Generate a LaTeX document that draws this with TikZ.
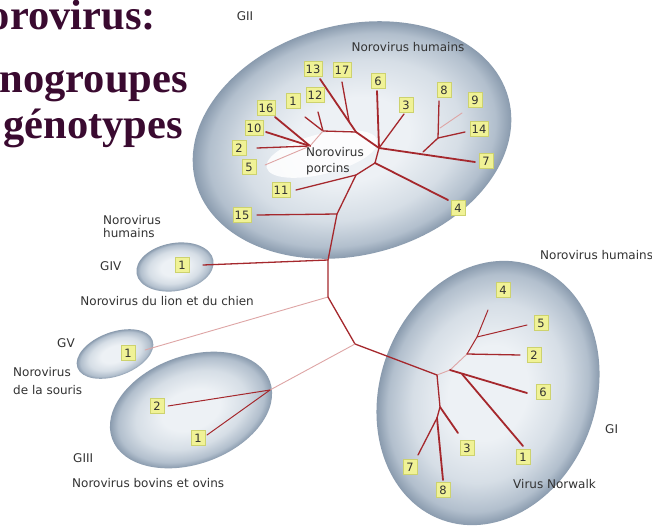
\documentclass[tikz,border=0pt]{standalone}
\usepackage{fontspec}
\setmainfont{Liberation Serif}
\newfontfamily\labfont{DejaVu Sans}
\definecolor{treered}{RGB}{165,40,45}
\definecolor{treepale}{RGB}{222,165,165}
\definecolor{boxfill}{RGB}{240,242,150}
\definecolor{boxedge}{RGB}{205,210,110}
\definecolor{labgray}{RGB}{50,50,50}
\definecolor{titlecol}{RGB}{58,10,48}
\definecolor{domeC}{RGB}{237,241,245}
\definecolor{domeM}{RGB}{214,222,230}
\definecolor{domeD}{RGB}{178,191,205}
\definecolor{domeE}{RGB}{138,155,174}
\pgfdeclareradialshading{dome}{\pgfpoint{0bp}{0bp}}{color(0bp)=(domeC); color(9bp)=(domeC); color(17bp)=(domeM); color(22.5bp)=(domeD); color(25bp)=(domeE); color(50bp)=(domeE)}
\newcommand\domeell[5]{\begin{scope}[transform canvas={shift={(#1,#2)},rotate=#3}]\shade[shading=dome] (0,0) ellipse [x radius=#4, y radius=#5];\end{scope}}
\tikzset{
 gbox/.style={draw=boxedge, line width=0.4pt, fill=boxfill, inner xsep=1.5pt, inner ysep=0pt, minimum height=15pt, minimum width=13.5pt, font=\labfont\fontsize{11.5}{12}\selectfont, text=labgray},
 lbl/.style={font=\labfont\fontsize{12}{14}\selectfont, text=labgray, inner sep=0pt},
 br/.style={draw=treered, line width=1.3pt, line cap=round},
 brthick/.style={draw=treered, line width=1.8pt, line cap=round},
 brpale/.style={draw=treepale, line width=0.9pt, line cap=round},
 ttl/.style={font=\fontsize{42.5}{42}\selectfont\bfseries, text=titlecol, inner sep=0pt},
}
\begin{document}
\begin{tikzpicture}[x=1pt,y=-1pt]
\useasboundingbox (0,0) rectangle (652,525);
\fill[white] (0,0) rectangle (652,525);
% ellipses
\domeell{352}{140}{15}{162}{115}
\domeell{175}{267}{10}{39}{24}
\domeell{115}{354}{20}{40}{22}
\domeell{191}{410}{20}{84}{54}
\domeell{488}{393}{-20}{108}{135}
\fill[white, opacity=.85, rotate around={14:(322,154)}] (322,154) ellipse [x radius=57, y radius=20];
% title
\node[ttl, anchor=base east] (t1) at (156,29) {orovirus:};
\node[ttl, anchor=base east] (t2) at (188,92) {nogroupes};
\node[ttl, anchor=base east] (t3) at (183,138) {génotypes};
% coordinates GII
\coordinate (T0) at (328,260);
\coordinate (T1) at (328,297);
\coordinate (T15) at (337,214);
\coordinate (T11) at (356,175);
\coordinate (H) at (375,163);
\coordinate (H2) at (379,148);
\coordinate (J1) at (356,132);
\coordinate (J2) at (323,131);
\coordinate (J17) at (349,121);
\coordinate (J3) at (310,146);
\coordinate (K) at (438,138);
\coordinate (K7) at (423,152);
\coordinate (K9) at (440,128);
\coordinate (e13) at (320,79);
\coordinate (e17) at (342,82);
\coordinate (e6) at (377,91);
\coordinate (e12) at (318,112);
\coordinate (e1) at (305,117);
\coordinate (e16) at (275,117);
\coordinate (e10) at (266,132);
\coordinate (e2) at (257,148);
\coordinate (e5) at (265,165);
\coordinate (e3) at (404,114);
\coordinate (e8) at (439,101);
\coordinate (e9) at (462,113);
\coordinate (e14) at (465,132);
\coordinate (e7) at (475,162);
\coordinate (e4) at (448,200);
\coordinate (e11) at (296,190);
\coordinate (e15) at (257,215);
\coordinate (eIV) at (203,265);
\coordinate (eV) at (145,350);
% lower
\coordinate (T2) at (355,344);
\coordinate (G3) at (270,390);
\coordinate (f2) at (168,406);
\coordinate (f1) at (207,435);
% GI
\coordinate (R) at (437,375);
\coordinate (P1) at (450,370);
\coordinate (P2) at (467,354);
\coordinate (P3) at (477,337);
\coordinate (P1b) at (462,374);
\coordinate (A) at (440,407);
\coordinate (B) at (437,418);
\coordinate (g4) at (488,310);
\coordinate (g5) at (527,325);
\coordinate (g2) at (520,355);
\coordinate (g6) at (527,393);
\coordinate (g1) at (523,446);
\coordinate (g3) at (458,433);
\coordinate (g7) at (418,455);
\coordinate (g8) at (443,480);
% tree GII
\draw[br] (T1) -- (T0) -- (T15) -- (T11) -- (H);
\draw[br] (H) -- (H2);
\draw[brthick] (H2) -- (J1);
\draw[br] (J1) -- (J2);
\draw[brthick] (e13) -- (J1);
\draw[br] (e17) -- (J17);
\draw[br] (e12) -- (J2);
\draw[br] (e1) -- (J2);
\draw[brpale] (J2) -- (J3);
\draw[brthick] (e16) -- (J3);
\draw[brthick] (e10) -- (J3);
\draw[br] (e2) -- (J3);
\draw[brpale] (e5) -- (J3);
\draw[brthick] (e6) -- (H2);
\draw[br] (e3) -- (H2);
\draw[brthick] (H2) -- (e7);
\draw[brthick] (H) -- (e4);
\draw[br] (K7) -- (K);
\draw[br] (e8) -- (K);
\draw[br] (K) -- (e14);
\draw[brpale] (K9) -- (e9);
\draw[br] (e11) -- (T11);
\draw[br] (e15) -- (T15);
\draw[br] (eIV) -- (T0);
\draw[brpale] (eV) -- (T1);
% lower trunk
\draw[br] (T1) -- (T2) -- (R);
\draw[brpale] (T2) -- (G3);
\draw[br, line width=1pt] (G3) -- (f2);
\draw[br, line width=1pt] (G3) -- (f1);
% GI tree
\draw[brpale] (R) -- (P1) -- (P2);
\draw[br, line width=1pt] (P2) -- (P3) -- (g4);
\draw[br, line width=1pt] (P3) -- (g5);
\draw[br] (P2) -- (g2);
\draw[brthick] (P1) -- (g6);
\draw[brthick] (P1b) -- (g1);
\draw[br] (R) -- (A) -- (B);
\draw[brthick] (A) -- (g3);
\draw[br] (B) -- (g7);
\draw[brthick] (B) -- (g8);
% boxes GII
\node[gbox] (b13) at (313,69) {13};
\node[gbox] (b17) at (342,70) {17};
\node[gbox] (b6) at (378,81) {6};
\node[gbox] (b1) at (293,101) {1};
\node[gbox] (b12) at (315,95) {12};
\node[gbox] (b16) at (266,108) {16};
\node[gbox] (b3) at (406,105) {3};
\node[gbox] (b8) at (444,90) {8};
\node[gbox] (b9) at (475,100) {9};
\node[gbox] (b10) at (254,128) {10};
\node[gbox] (b14) at (479,129) {14};
\node[gbox] (b2) at (239,148) {2};
\node[gbox] (b7) at (486,161) {7};
\node[gbox] (b5) at (249,167) {5};
\node[gbox] (b11) at (281,190) {11};
\node[gbox] (b4) at (458,208) {4};
\node[gbox] (b15) at (242,215) {15};
% other boxes
\node[gbox] (bIV) at (182,265) {1};
\node[gbox] (bV) at (128,353) {1};
\node[gbox] (bIII2) at (157,406) {2};
\node[gbox] (bIII1) at (198,438) {1};
\node[gbox] (c4) at (503,290) {4};
\node[gbox] (c5) at (541,323) {5};
\node[gbox] (c2) at (534,355) {2};
\node[gbox] (c6) at (543,392) {6};
\node[gbox] (c3) at (467,448) {3};
\node[gbox] (c1) at (523,457) {1};
\node[gbox] (c7) at (410,467) {7};
\node[gbox] (c8) at (443,490) {8};
% labels
\node[lbl, anchor=base] (lGII) at (245,20) {GII};
\node[lbl, anchor=base] (lhum2) at (408,51.5) {Norovirus humains};
\node[lbl, anchor=base west] (lpor1) at (306,156.5) {Norovirus};
\node[lbl, anchor=base west] (lpor2) at (306,172) {porcins};
\node[lbl, anchor=base west] (lhum4a) at (103,224) {Norovirus};
\node[lbl, anchor=base west] (lhum4b) at (103,237) {humains};
\node[lbl, anchor=base west] (lGIV) at (100,270) {GIV};
\node[lbl, anchor=base east] (llion) at (254,305) {Norovirus du lion et du chien};
\node[lbl, anchor=base west] (lGV) at (57,347) {GV};
\node[lbl, anchor=base west] (lsou1) at (13,376) {Norovirus};
\node[lbl, anchor=base west] (lsou2) at (13,394) {de la souris};
\node[lbl, anchor=base west] (lGIII) at (73,462) {GIII};
\node[lbl, anchor=base west] (lbov) at (72,487) {Norovirus bovins et ovins};
\node[lbl, anchor=base west] (lhum1) at (540,259) {Norovirus humains};
\node[lbl, anchor=base west] (lGI) at (605,433) {GI};
\node[lbl, anchor=base west] (lnor) at (513,488) {Virus Norwalk};
\end{tikzpicture}
\end{document}
